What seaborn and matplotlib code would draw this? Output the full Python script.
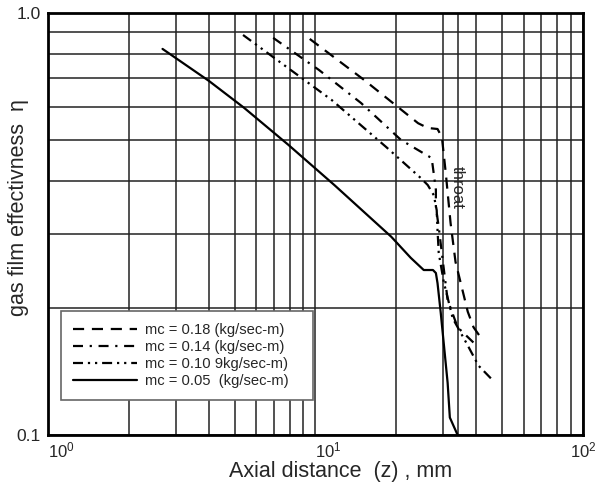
import matplotlib
matplotlib.use("Agg")
import matplotlib.pyplot as plt
import seaborn as sns
import numpy as np
from matplotlib.ticker import LogLocator, NullFormatter, FixedLocator, FixedFormatter

# ---- data ----
labels = ["mc = 0.18 (kg/sec-m)", "mc = 0.14 (kg/sec-m)",
          "mc = 0.10 9kg/sec-m)", "mc = 0.05  (kg/sec-m)"]

x_018 = [9.52, 15.2, 24.2, 26.3, 28.6, 29.7, 30.7, 32.0, 33.4, 35.8, 37.1, 39.0, 42.1]
y_018 = [0.868, 0.694, 0.548, 0.534, 0.531, 0.508, 0.418, 0.318, 0.257, 0.215, 0.196, 0.180, 0.168]

x_014 = [6.95, 10.3, 14.8, 20.9, 27.2, 28.2, 28.2, 28.9, 29.9, 31.2, 34.0, 40.0]
y_014 = [0.873, 0.733, 0.612, 0.500, 0.453, 0.381, 0.347, 0.311, 0.260, 0.209, 0.180, 0.163]

x_010 = [5.36, 7.45, 11.5, 18.4, 24.8, 26.3, 27.7, 28.4, 28.6, 28.9, 30.2, 32.6, 37.1, 40.7, 45.9]
y_010 = [0.887, 0.761, 0.622, 0.481, 0.406, 0.391, 0.370, 0.341, 0.306, 0.270, 0.230, 0.189, 0.163, 0.146, 0.135]

x_005 = [2.68, 4.0, 5.41, 7.92, 11.77, 19.2, 22.7, 25.4, 27.5, 28.2, 28.6, 29.4, 31.2, 31.8, 34.0]
y_005 = [0.822, 0.690, 0.596, 0.487, 0.391, 0.295, 0.263, 0.246, 0.246, 0.242, 0.229, 0.195, 0.133, 0.110, 0.100]

throat_x = 34.0
throat_label_y = 0.385

sns.set_style("white")
plt.rcParams['font.family'] = ['Liberation Sans', 'DejaVu Sans']
plt.rcParams['mathtext.fontset'] = 'custom'
plt.rcParams['mathtext.rm'] = 'Liberation Sans'

fig = plt.figure(figsize=(6.01, 4.83), dpi=100)
ax = fig.add_axes([0.0799, 0.0994, 0.890, 0.8737])

series = [(x_018, y_018, (0, (5, 3.5))),
          (x_014, y_014, (0, (4.5, 3, 1, 3))),
          (x_010, y_010, (0, (4.5, 2.2, 1, 2.2, 1, 2.2))),
          (x_005, y_005, '-')]
for (xs, ys, ls), lab in zip(series, labels):
    sns.lineplot(x=xs, y=ys, ax=ax, color='black', linewidth=1.6,
                 linestyle=ls, sort=False, estimator=None, label=lab, legend=False)

ax.set_xscale('log')
ax.set_yscale('log')
ax.set_xlim(1, 100)
ax.set_ylim(0.1, 1.0)

ax.xaxis.set_major_locator(FixedLocator([1, 10, 100]))
ax.xaxis.set_major_formatter(FixedFormatter([r"$\mathdefault{10^{0}}$",
                                             r"$\mathdefault{10^{1}}$",
                                             r"$\mathdefault{10^{2}}$"]))
ax.xaxis.set_minor_locator(LogLocator(base=10, subs=np.arange(2, 10), numticks=20))
ax.xaxis.set_minor_formatter(NullFormatter())
ax.yaxis.set_major_locator(FixedLocator([0.1, 1.0]))
ax.yaxis.set_major_formatter(FixedFormatter(["0.1", "1.0"]))
ax.yaxis.set_minor_locator(FixedLocator([0.2, 0.3, 0.4, 0.5, 0.6, 0.7, 0.8, 0.9]))
ax.yaxis.set_minor_formatter(NullFormatter())

ax.grid(which='both', color='#222222', linewidth=1.1)
ax.axvline(throat_x, color='#222222', linewidth=1.1, zorder=0.5)
ax.set_axisbelow(True)
ax.tick_params(which='both', length=0)
ax.tick_params(axis='x', labelsize=12, pad=4)
ax.tick_params(axis='y', labelsize=12.5, pad=5)
for s in ax.spines.values():
    s.set_linewidth(2)
    s.set_color('black')

xt = ax.get_xticklabels()
xt[0].set_ha('left')
xt[1].set_ha('left')

ax.set_xlabel("Axial distance  (z) , mm", fontsize=15.5, va='center')
ax.xaxis.set_label_coords(0.546, -0.087)
ax.set_ylabel("gas film effectivness  η", fontsize=15.5, va='center')
ax.yaxis.set_label_coords(-0.056, 0.538)

ax.text(throat_x, throat_label_y, "throat", rotation=-90, fontsize=12,
        ha='center', va='center')

leg = ax.legend(handles=ax.lines[:4], labels=[l + "   " for l in labels],
                loc='upper left',
                bbox_to_anchor=(0.024, 0.294), borderaxespad=0, fontsize=10.6,
                handlelength=4.4, frameon=True, fancybox=False, framealpha=1,
                edgecolor='#666666', labelspacing=0.22, borderpad=0.8,
                handletextpad=0.5)
leg.get_frame().set_linewidth(1.2)

fig.savefig("out.png", dpi=100)
